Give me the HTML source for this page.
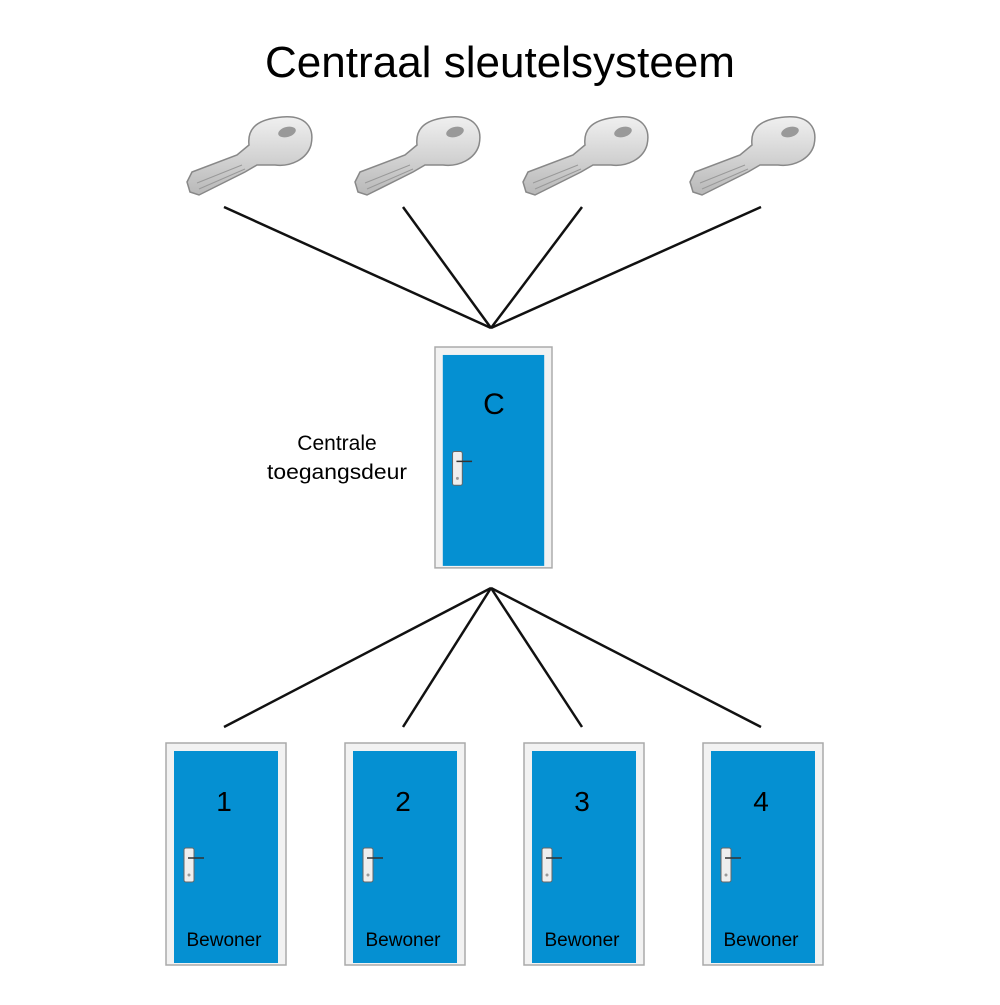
<!DOCTYPE html>
<html><head><style>
body{margin:0;background:#fff;width:1000px;height:1000px;overflow:hidden;font-family:"Liberation Sans",sans-serif}
</style></head><body>
<svg width="1000" height="1000" viewBox="0 0 1000 1000">
<defs>
<linearGradient id="kg" x1="0" y1="0" x2="0" y2="1">
<stop offset="0" stop-color="#f0f0f0"/><stop offset="1" stop-color="#b8b8b8"/></linearGradient>
<g id="key">
<path d="M0,65 L5,55 L50,38 L62,28 C60,10 72,2 95,0 C118,-2 128,10 124,28 C120,42 104,50 88,48 L70,48 L58,55 L12,78 L3,75 Z" fill="url(#kg)" stroke="#888" stroke-width="1.5"/>
<ellipse cx="100" cy="15" rx="9" ry="5" fill="#999" transform="rotate(-15 100 15)"/>
<path d="M10,66 L55,48 M12,72 L58,52" stroke="#999" stroke-width="1" fill="none"/>
</g>
<g id="door">
<rect x="0" y="0" width="120" height="222" fill="#f2f2f2" stroke="#aaa" stroke-width="1.5"/>
<rect x="8" y="8" width="104" height="212" fill="#0590d2"/>
<rect x="18" y="105" width="10" height="34" rx="2" fill="#eee" stroke="#666" stroke-width="1"/>
<line x1="22" y1="115" x2="38" y2="115" stroke="#333" stroke-width="1.5"/>
<circle cx="23" cy="132" r="1.5" fill="#999"/>
</g>
</defs>
<text x="500" y="77" font-size="44" text-anchor="middle" textLength="470" lengthAdjust="spacingAndGlyphs">Centraal sleutelsysteem</text>
<use href="#key" x="187" y="117"/>
<use href="#key" x="355" y="117"/>
<use href="#key" x="523" y="117"/>
<use href="#key" x="690" y="117"/>
<g stroke="#111" stroke-width="2.5">
<line x1="224" y1="207" x2="491" y2="328"/><line x1="403" y1="207" x2="491" y2="328"/>
<line x1="582" y1="207" x2="491" y2="328"/><line x1="761" y1="207" x2="491" y2="328"/>
<line x1="491" y1="588" x2="224" y2="727"/><line x1="491" y1="588" x2="403" y2="727"/>
<line x1="491" y1="588" x2="582" y2="727"/><line x1="491" y1="588" x2="761" y2="727"/>
</g>
<g transform="translate(435,347) scale(0.975,0.995)"><use href="#door"/></g>
<text x="494" y="414" font-size="30" text-anchor="middle">C</text>
<text x="337" y="450" font-size="21" text-anchor="middle">Centrale</text>
<text x="337" y="479" font-size="21" text-anchor="middle" textLength="140" lengthAdjust="spacingAndGlyphs">toegangsdeur</text>
<use href="#door" x="166" y="743"/>
<use href="#door" x="345" y="743"/>
<use href="#door" x="524" y="743"/>
<use href="#door" x="703" y="743"/>
<g font-size="28" text-anchor="middle">
<text x="224" y="811">1</text><text x="403" y="811">2</text><text x="582" y="811">3</text><text x="761" y="811">4</text>
</g>
<g font-size="19" text-anchor="middle">
<text x="224" y="946">Bewoner</text><text x="403" y="946">Bewoner</text><text x="582" y="946">Bewoner</text><text x="761" y="946">Bewoner</text>
</g>
</svg>
</body></html>
